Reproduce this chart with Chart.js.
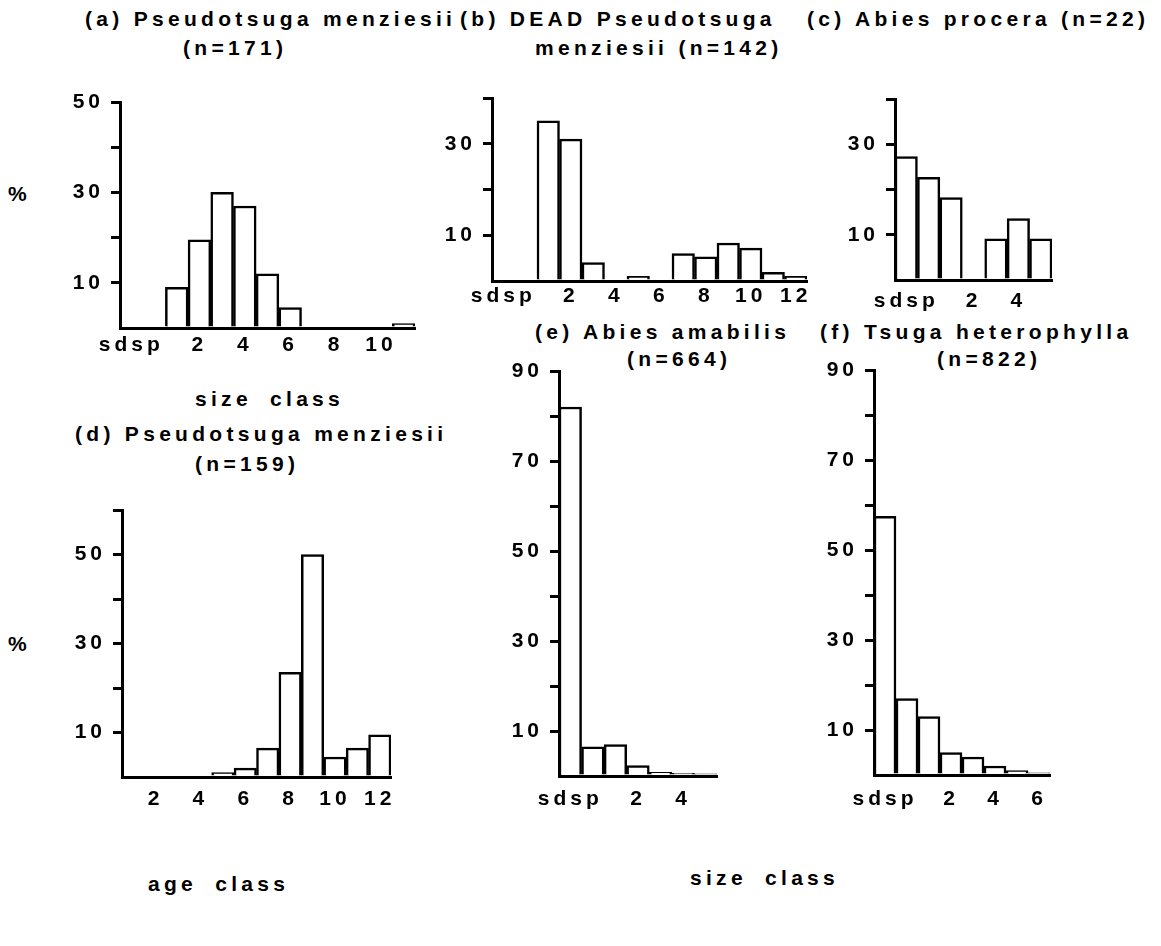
<!DOCTYPE html>
<html><head><meta charset="utf-8">
<script src="https://cdn.jsdelivr.net/npm/chart.js@4/dist/chart.umd.min.js"></script>
<style>
html,body{margin:0;padding:0;background:#fff;width:1161px;height:946px;overflow:hidden;position:relative;}
canvas{position:absolute;}
.t{position:absolute;font-family:"Liberation Sans",Arial,sans-serif;font-weight:bold;font-size:21px;letter-spacing:4.3px;white-space:nowrap;line-height:1;color:#000;transform:translateY(-50%);}
</style></head><body>
<div class="t" style="left:85px;top:18px">(a) Pseudotsuga menziesii</div>
<div class="t" style="left:183px;top:47px">(n=171)</div>
<div class="t" style="left:460px;top:18px">(b) DEAD Pseudotsuga</div>
<div class="t" style="left:535px;top:47px">menziesii (n=142)</div>
<div class="t" style="left:807px;top:18px">(c) Abies procera (n=22)</div>
<div class="t" style="left:8px;top:193px">%</div>
<div class="t" style="left:195px;top:398px;word-spacing:8px">size class</div>
<div class="t" style="left:75px;top:433px">(d) Pseudotsuga menziesii</div>
<div class="t" style="left:195px;top:463px">(n=159)</div>
<div class="t" style="left:8px;top:643px">%</div>
<div class="t" style="left:535px;top:331px">(e) Abies amabilis</div>
<div class="t" style="left:627px;top:358px">(n=664)</div>
<div class="t" style="left:820px;top:331px">(f) Tsuga heterophylla</div>
<div class="t" style="left:937px;top:358px">(n=822)</div>
<div class="t" style="left:148px;top:883px;word-spacing:8px">age class</div>
<div class="t" style="left:690px;top:877px;word-spacing:8px">size class</div>
<canvas id="ca"></canvas><canvas id="cb"></canvas><canvas id="cc"></canvas>
<canvas id="cd"></canvas><canvas id="ce"></canvas><canvas id="cf"></canvas>
<script>
// ---- data ----
const classesA = ['sd','sp','1','2','3','4','5','6','7','8','9','10','11'];
const valuesA  = [0,0,9,19.5,30,27,12,4.5,0,0,0,0,1];
const xTicksA  = ['sdsp','','','2','','4','','6','','8','','10',''];
const yTicksA  = [10,30,50];

const classesB = ['sd','sp','1','2','3','4','5','6','7','8','9','10','11','12'];
const valuesB  = [0,0,35,31,4,0,1,0,6,5.3,8.3,7.2,1.9,1];
const xTicksB  = ['sdsp','','','2','','4','','6','','8','','10','','12'];
const yTicksB  = [10,30];

const classesC = ['sd','sp','1','2','3','4','5'];
const valuesC  = [27.3,22.7,18.2,0,9.1,13.6,9.1];
const xTicksC  = ['sdsp','','','2','','4',''];
const yTicksC  = [10,30];

const classesD = ['1','2','3','4','5','6','7','8','9','10','11','12'];
const valuesD  = [0,0,0,0,1,2,6.5,23.5,50,4.5,6.5,9.5];
const xTicksD  = ['','2','','4','','6','','8','','10','','12'];
const yTicksD  = [10,30,50];

const classesE = ['sd','sp','1','2','3','4','5'];
const valuesE  = [82,6.5,7,2.3,0.8,0.6,0.5];
const xTicksE  = ['sdsp','','','2','','4',''];
const yTicksE  = [10,30,50,70,90];

const classesF = ['sd','sp','1','2','3','4','5','6'];
const valuesF  = [57.5,17,13,5,4,2,1,0.5];
const xTicksF  = ['sdsp','','','2','','4','','6'];
const yTicksF  = [10,30,50,70,90];

// ---- drawing ----
const FONT = {family:'"Liberation Sans", Arial, sans-serif', weight:'bold', size:21};
const W_Y = 80, PAD_T = 20, PAD_R = 30, H_X = 50;
const spacing = {id:'ls',
  beforeLayout(c){c.ctx.letterSpacing='4px';},
  beforeDraw(c){c.ctx.letterSpacing='4px';}};

function panel(id, g, labels, values, xTicks, yMax, yTicks){
  const cv = document.getElementById(id);
  const w = W_Y + (g.right - g.axisX) + PAD_R;
  const h = PAD_T + (g.bottom - g.top) + H_X;
  cv.width = w; cv.height = h;
  cv.style.left = (g.axisX - W_Y) + 'px';
  cv.style.top = (g.top - PAD_T) + 'px';
  cv.style.width = w + 'px'; cv.style.height = h + 'px';
  new Chart(cv, {
    type:'bar',
    data:{labels:labels, datasets:[{data:values, backgroundColor:'#fff', borderColor:'#000',
      borderWidth:2.5, barPercentage:1, categoryPercentage:1}]},
    plugins:[spacing],
    options:{
      responsive:false, animation:false, devicePixelRatio:1,
      layout:{padding:{top:PAD_T, right:PAD_R, left:0, bottom:0}},
      plugins:{legend:{display:false}, tooltip:{enabled:false}},
      scales:{
        x:{type:'category', offset:true,
          grid:{display:false, drawTicks:false},
          border:{display:true, color:'#000', width:3},
          ticks:{autoSkip:false, maxRotation:0, minRotation:0, padding:g.xPad, color:'#000', font:FONT,
            callback:(v,i)=>xTicks[i]},
          afterFit:s=>{s.height=H_X;}},
        y:{min:0, max:yMax,
          grid:{display:true, drawOnChartArea:false, drawTicks:true, tickLength:9, lineWidth:3,
            color:c=>(c.tick && c.tick.value===0)?'rgba(0,0,0,0)':'#000'},
          border:{display:true, color:'#000', width:3},
          ticks:{stepSize:10, padding:7, color:'#000', font:FONT,
            callback:v=>yTicks.includes(v)?String(v):''},
          afterFit:s=>{s.width=W_Y;}}
      }
    }
  });
}

panel('ca', {axisX:120, right:415, top:102, bottom:328, xPad:5}, classesA, valuesA, xTicksA, 50, yTicksA);
panel('cb', {axisX:492, right:807, top:98,  bottom:281, xPad:3}, classesB, valuesB, xTicksB, 40, yTicksB);
panel('cc', {axisX:895, right:1052, top:99, bottom:280, xPad:9}, classesC, valuesC, xTicksC, 40, yTicksC);
panel('cd', {axisX:122, right:391, top:510, bottom:777, xPad:10}, classesD, valuesD, xTicksD, 60, yTicksD);
panel('ce', {axisX:559, right:717, top:371, bottom:776, xPad:11}, classesE, valuesE, xTicksE, 90, yTicksE);
panel('cf', {axisX:874, right:1050, top:370, bottom:775, xPad:12}, classesF, valuesF, xTicksF, 90, yTicksF);
</script>
</body></html>
